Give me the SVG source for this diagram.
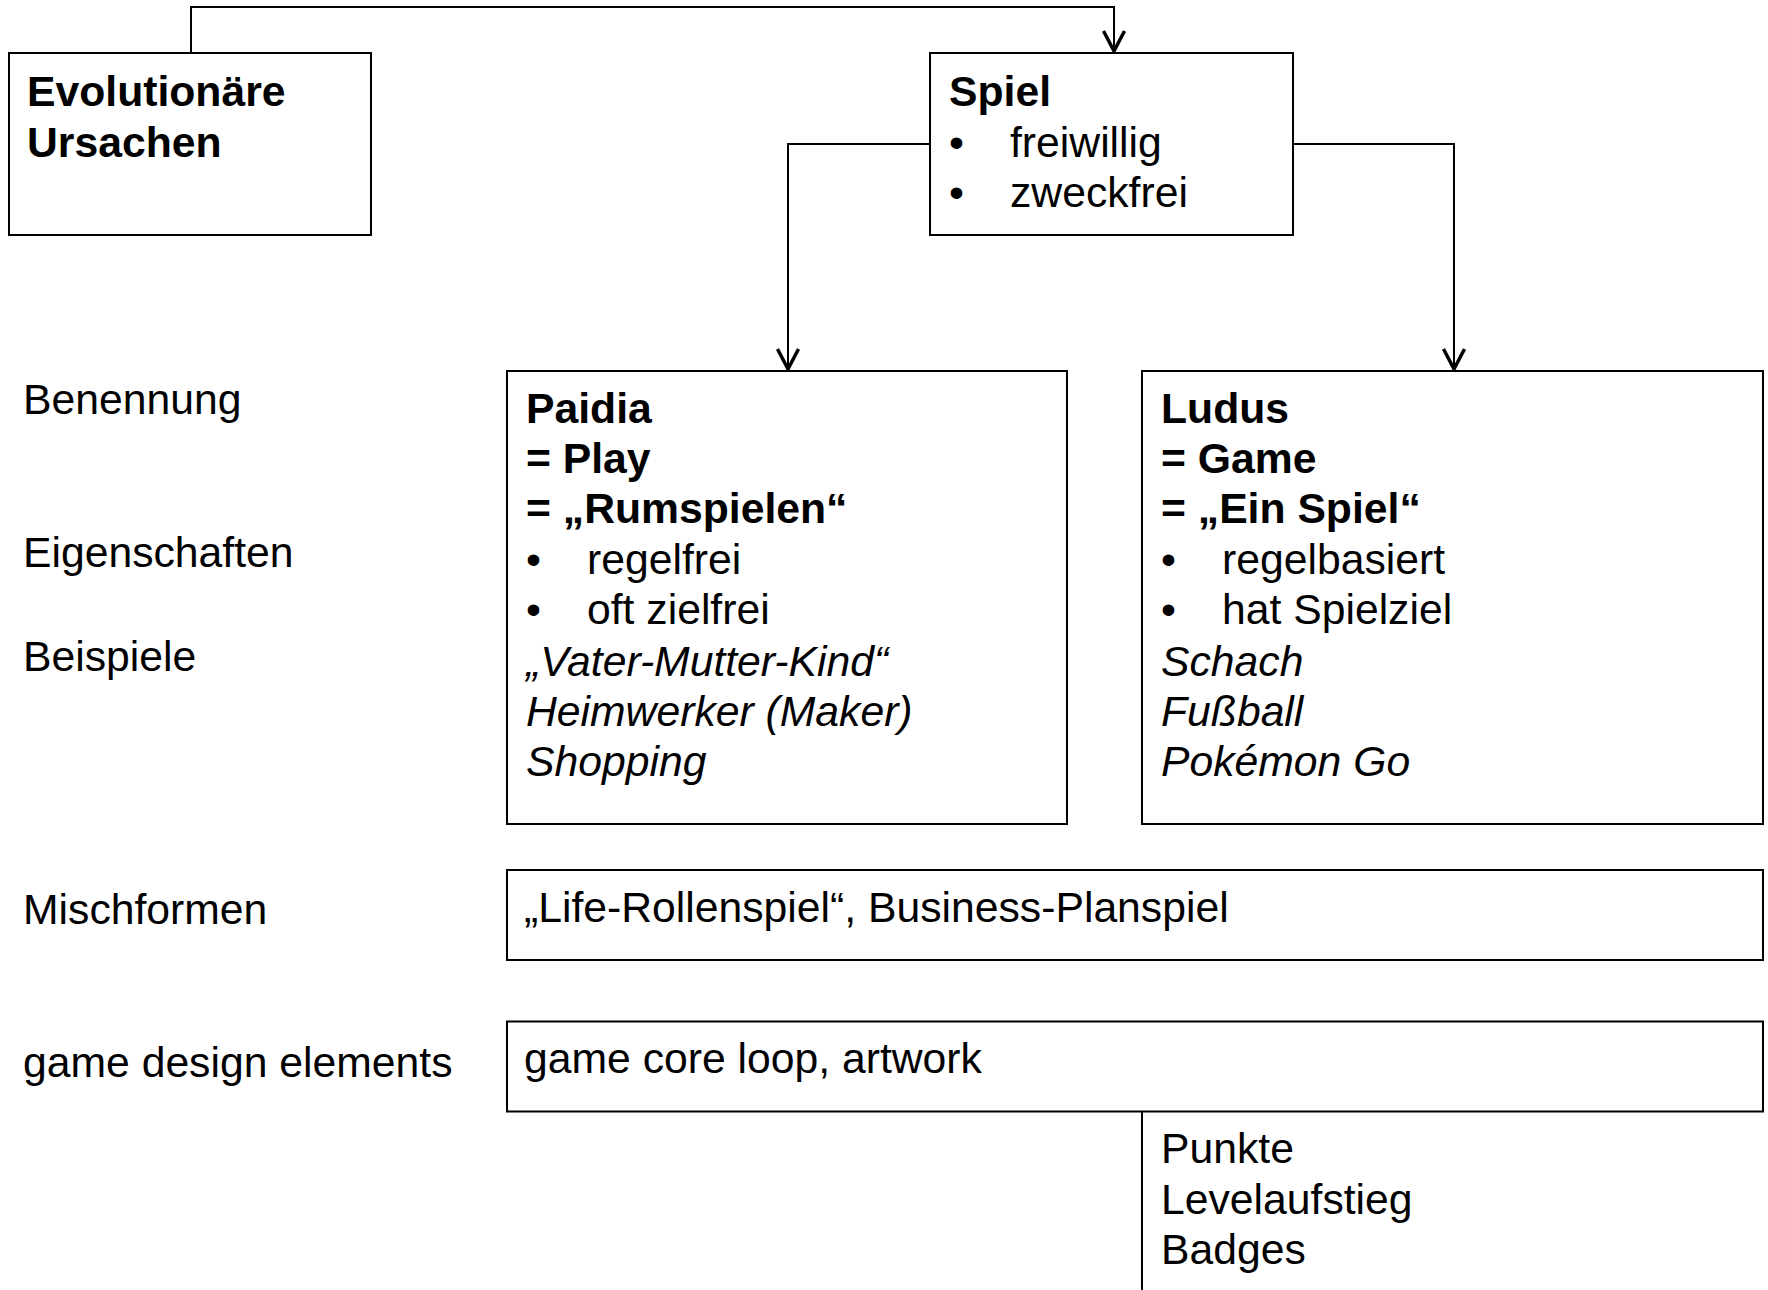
<svg xmlns="http://www.w3.org/2000/svg" width="1768" height="1290" viewBox="0 0 1768 1290">
  <style>
    .box { fill: #ffffff; stroke: #000000; stroke-width: 2; }
    .conn { fill: none; stroke: #000000; stroke-width: 2; }
    text { font-family: "Liberation Sans", Arial, sans-serif; font-size: 42.7px; fill: #000000; }
    .b { font-weight: bold; }
    .i { font-style: italic; }
  </style>
  <defs>
    <marker id="arrow" markerUnits="userSpaceOnUse" orient="auto" refX="0" refY="0" markerWidth="30" markerHeight="30" overflow="visible">
      <path d="M-20,-10.5 L0,0 L-20,10.5" fill="none" stroke="#000000" stroke-width="3.5" stroke-linejoin="miter"/>
    </marker>
  </defs>

  <rect width="1768" height="1290" fill="#ffffff"/>

  <!-- connectors -->
  <g id="connectors">
    <path class="conn" d="M191,53 V7 H1114 V51" marker-end="url(#arrow)"/>
    <path class="conn" d="M930,144 H788 V369" marker-end="url(#arrow)"/>
    <path class="conn" d="M1293,144 H1454 V369" marker-end="url(#arrow)"/>
  </g>

  <!-- row labels -->
  <g id="labels">
    <text x="23" y="414">Benennung</text>
    <text x="23" y="567">Eigenschaften</text>
    <text x="23" y="671">Beispiele</text>
    <text x="23" y="924">Mischformen</text>
    <text x="23" y="1077">game design elements</text>
  </g>

  <g id="evolutionaere-ursachen">
    <rect class="box" x="9" y="53" width="362" height="182"/>
    <text class="b" x="27" y="106">Evolutionäre</text>
    <text class="b" x="27" y="157">Ursachen</text>
  </g>

  <g id="spiel">
    <rect class="box" x="930" y="53" width="363" height="182"/>
    <text class="b" x="949" y="106">Spiel</text>
    <text x="949" y="157">•</text>
    <text x="1010" y="157">freiwillig</text>
    <text x="949" y="207">•</text>
    <text x="1010" y="207">zweckfrei</text>
  </g>

  <g id="paidia">
    <rect class="box" x="507" y="371" width="560" height="453"/>
    <text class="b" x="526" y="423">Paidia</text>
    <text class="b" x="526" y="473">= Play</text>
    <text class="b" x="526" y="523">= „Rumspielen“</text>
    <text x="526" y="574">•</text>
    <text x="587" y="574">regelfrei</text>
    <text x="526" y="624">•</text>
    <text x="587" y="624">oft zielfrei</text>
    <text class="i" x="526" y="676">„Vater-Mutter-Kind“</text>
    <text class="i" x="526" y="726">Heimwerker (Maker)</text>
    <text class="i" x="526" y="776">Shopping</text>
  </g>

  <g id="ludus">
    <rect class="box" x="1142" y="371" width="621" height="453"/>
    <text class="b" x="1161" y="423">Ludus</text>
    <text class="b" x="1161" y="473">= Game</text>
    <text class="b" x="1161" y="523">= „Ein Spiel“</text>
    <text x="1161" y="574">•</text>
    <text x="1222" y="574">regelbasiert</text>
    <text x="1161" y="624">•</text>
    <text x="1222" y="624">hat Spielziel</text>
    <text class="i" x="1161" y="676">Schach</text>
    <text class="i" x="1161" y="726">Fußball</text>
    <text class="i" x="1161" y="776">Pokémon Go</text>
  </g>

  <g id="mischformen">
    <rect class="box" x="507" y="870" width="1256" height="90"/>
    <text x="524" y="922">„Life-Rollenspiel“, Business-Planspiel</text>
  </g>

  <g id="game-design-elements">
    <rect class="box" x="507" y="1021.5" width="1256" height="90"/>
    <text x="524" y="1073">game core loop, artwork</text>
  </g>

  <g id="gamification-elements">
    <path class="conn" d="M1142,1111.5 V1292"/>
    <text x="1161" y="1163">Punkte</text>
    <text x="1161" y="1214">Levelaufstieg</text>
    <text x="1161" y="1264">Badges</text>
  </g>
</svg>
